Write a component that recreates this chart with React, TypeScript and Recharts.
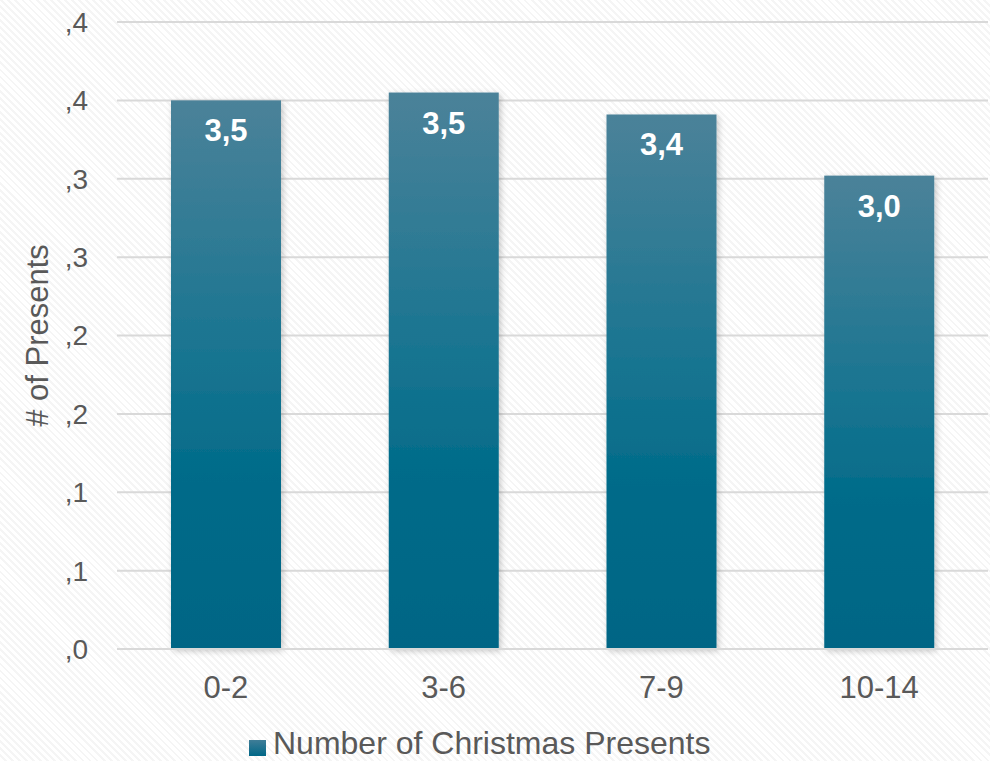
import React from 'react';
import { BarChart, Bar, XAxis, YAxis, CartesianGrid, LabelList, Legend } from 'recharts';

const categories = ['0-2', '3-6', '7-9', '10-14'];
const presents = [3.5, 3.55, 3.41, 3.02];
const presentLabels = ['3,5', '3,5', '3,4', '3,0'];
const yTicks = [0, 0.5, 1, 1.5, 2, 2.5, 3, 3.5, 4];
const yTickLabels = [',0', ',1', ',1', ',2', ',2', ',3', ',3', ',4', ',4'];
const seriesName = 'Number of Christmas Presents';

const data = categories.map((age, i) => ({ age, presents: presents[i], label: presentLabels[i] }));

const FONT = '"Liberation Sans", Arial, sans-serif';
const GREY = '#595959';

// bar with the soft excel-ish drop shadow
const ShadowBar = (props: any) => {
  const { x, y, width, height } = props;
  return <rect x={x} y={y} width={width} height={height} fill="url(#barFill)" filter="url(#barShadow)" />;
};

const YLabel = (props: any) => {
  const { viewBox } = props;
  const cx = viewBox.x + 37;
  const cy = viewBox.y + viewBox.height / 2;
  return (
    <text
      x={cx}
      y={cy}
      fill={GREY}
      fontSize={31}
      fontFamily={FONT}
      textAnchor="middle"
      dominantBaseline="central"
      transform={`rotate(-90, ${cx}, ${cy})`}
    >
      # of Presents
    </text>
  );
};

const LegendBox = () => (
  <div style={{ height: 35, display: 'flex', alignItems: 'flex-start', paddingLeft: 249, fontFamily: FONT }}>
    <div
      style={{
        width: 17,
        height: 16,
        marginTop: 14,
        marginRight: 7,
        background: 'linear-gradient(#3f7d97, #006787)',
      }}
    />
    <span style={{ fontSize: 32, lineHeight: '35px', color: GREY }}>{seriesName}</span>
  </div>
);

export default function App() {
  return (
    <div
      style={{
        position: 'absolute',
        left: 0,
        top: 0,
        width: 990,
        height: 761,
        background: 'repeating-linear-gradient(45deg, #ffffff 0px, #ffffff 3px, #f5f5f5 3px, #f5f5f5 5px)',
      }}
    >
      <BarChart width={990} height={761} data={data} margin={{ top: 22, right: 2, left: 0, bottom: 0 }} barSize={110}>
        <defs>
          <linearGradient id="barFill" x1="0" y1="0" x2="0" y2="1">
            <stop offset="0%" stopColor="#4b8299" />
            <stop offset="45%" stopColor="#1a7591" />
            <stop offset="70%" stopColor="#006b89" />
            <stop offset="100%" stopColor="#006585" />
          </linearGradient>
          <filter id="barShadow" x="-20%" y="-10%" width="140%" height="120%">
            <feDropShadow dx="2" dy="2" stdDeviation="3" floodColor="#000000" floodOpacity="0.22" />
          </filter>
        </defs>
        <CartesianGrid vertical={false} stroke="#d9d9d9" strokeWidth={2} />
        <XAxis
          dataKey="age"
          height={77}
          tickLine={false}
          tickSize={0}
          tickMargin={27}
          axisLine={{ stroke: '#d9d9d9', strokeWidth: 2 }}
          tick={{ fill: GREY, fontSize: 31, fontFamily: FONT }}
        />
        <YAxis
          width={117}
          domain={[0, 4]}
          ticks={yTicks}
          interval={0}
          axisLine={false}
          tickLine={false}
          tickSize={0}
          tickMargin={29}
          tickFormatter={(v: number, i: number) => yTickLabels[i]}
          tick={{ fill: GREY, fontSize: 28, fontFamily: FONT }}
          label={<YLabel />}
        />
        <Legend verticalAlign="bottom" content={<LegendBox />} />
        <Bar dataKey="presents" name={seriesName} shape={<ShadowBar />} isAnimationActive={false}>
          <LabelList
            dataKey="label"
            position="insideTop"
            offset={19}
            fill="#ffffff"
            fontSize={31}
            fontWeight="bold"
            fontFamily={FONT}
          />
        </Bar>
      </BarChart>
    </div>
  );
}
